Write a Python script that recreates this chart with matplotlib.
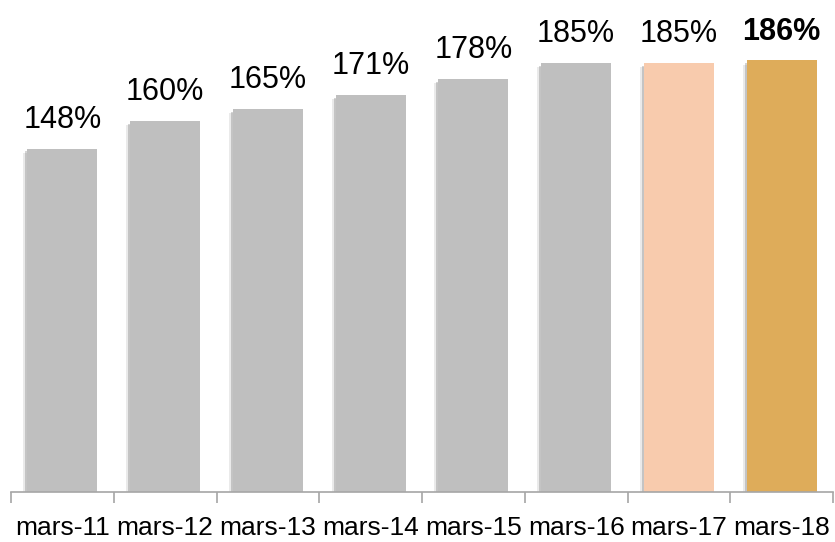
import matplotlib
matplotlib.use("Agg")
import matplotlib.pyplot as plt
import matplotlib.patheffects as pe
from matplotlib import font_manager

# data
categories = ["mars-11", "mars-12", "mars-13", "mars-14", "mars-15", "mars-16", "mars-17", "mars-18"]
values = [148, 160, 165, 171, 178, 185, 185, 186]
labels = ["148%", "160%", "165%", "171%", "178%", "185%", "185%", "186%"]
colors = ["#BFBFBF"] * 6 + ["#F8CBAD", "#DEAC5A"]

names = set(f.name for f in font_manager.fontManager.ttflist)
if "Liberation Sans Narrow" in names:
    fam = "Liberation Sans Narrow"
    lab_size, tick_size = 25, 19.5
else:
    fam = "Liberation Sans"
    lab_size, tick_size = 22, 19
plt.rcParams["font.family"] = [fam, "DejaVu Sans"]

fig = plt.figure(figsize=(8.35, 5.42), dpi=100)
ax = fig.add_axes([11 / 835, 1 - 492 / 542, 822 / 835, 492 / 542])

x = list(range(len(categories)))
bars = ax.bar(x, values, width=0.68, color=colors, zorder=2)
# soft shadow on the left side of each bar
for b in bars:
    b.set_path_effects([
        pe.SimplePatchShadow(offset=(-3, -3), shadow_rgbFace="#777777", alpha=0.15),
        pe.SimplePatchShadow(offset=(-1.5, -2), shadow_rgbFace="#555555", alpha=0.25),
        pe.Normal()])

for i, (v, t) in enumerate(zip(values, labels)):
    ax.annotate(t, (i, v), xytext=(0, 10), textcoords="offset points",
                ha="center", va="bottom", fontsize=lab_size,
                fontweight="bold" if i == len(values) - 1 else "normal")

ax.set_xlim(-0.5, len(categories) - 0.5)
ax.set_ylim(0, 492 / 2.32)
ax.set_yticks([])
for s in ["top", "right", "left"]:
    ax.spines[s].set_visible(False)
ax.spines["bottom"].set_color("#A6A6A6")
ax.spines["bottom"].set_linewidth(1.2)

ax.set_xticks([i - 0.5 for i in range(len(categories) + 1)])
ax.set_xticklabels([])
ax.tick_params(axis="x", length=8, width=1.2, color="#A6A6A6")
ax.set_xticks(x, minor=True)
ax.set_xticklabels(categories, minor=True, fontsize=tick_size)
ax.tick_params(axis="x", which="minor", length=0, pad=17)

fig.savefig("out.png", dpi=100)
